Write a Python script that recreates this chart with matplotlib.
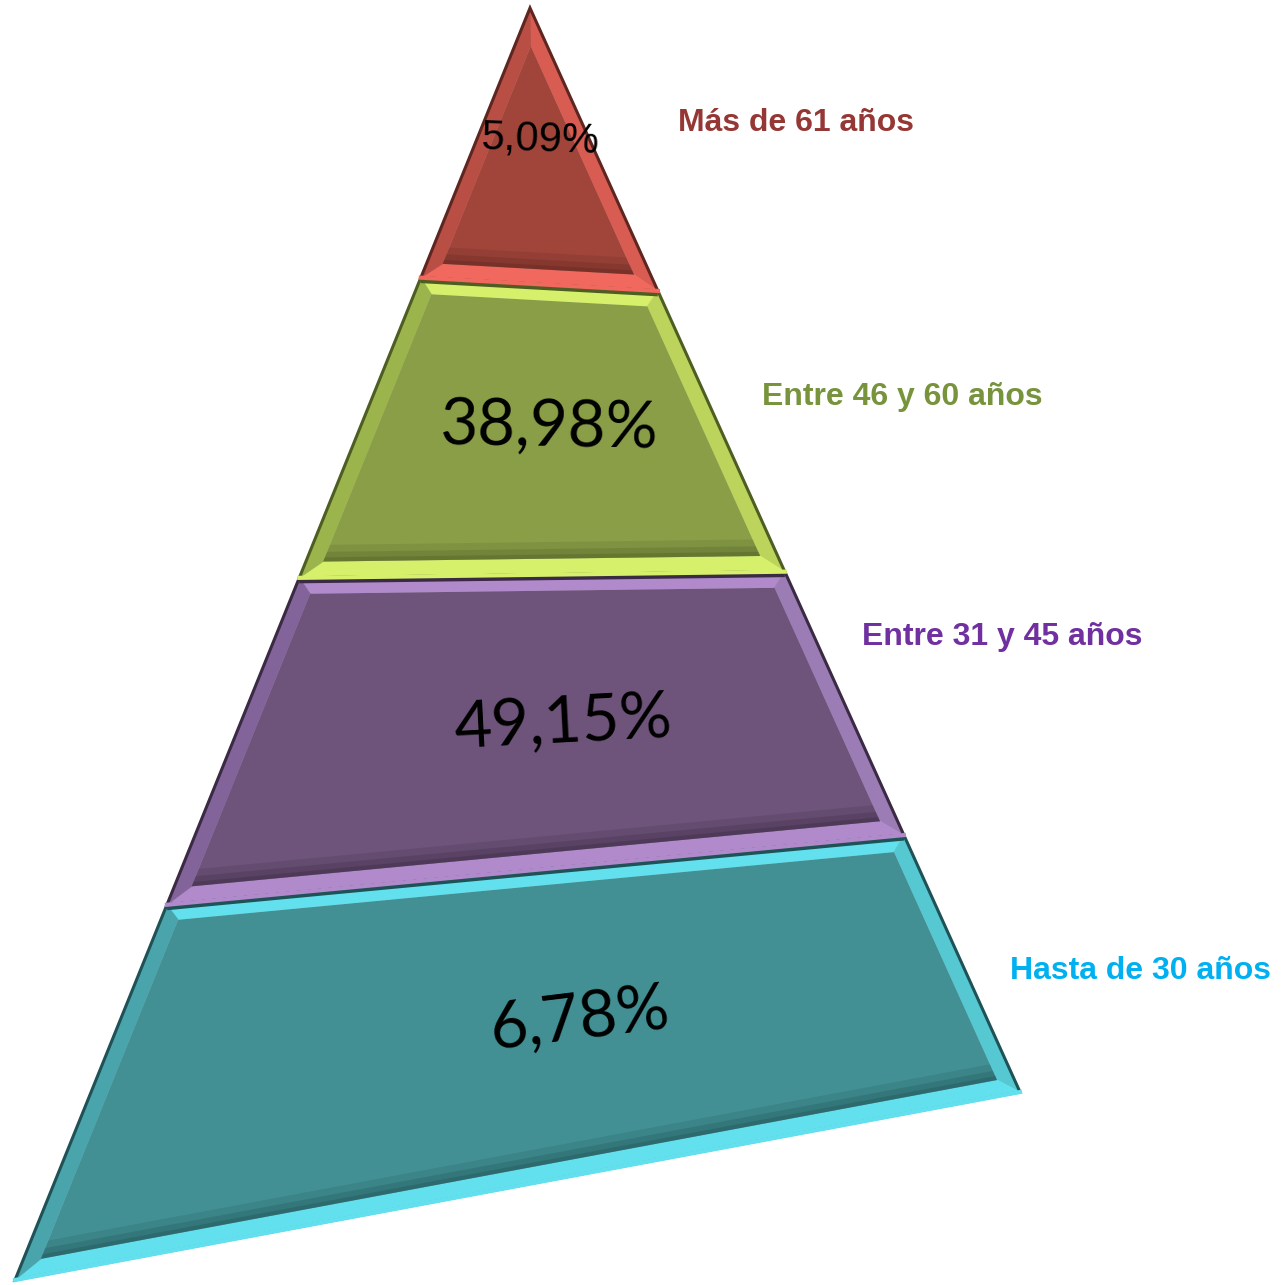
import matplotlib.pyplot as plt
from matplotlib.patches import Polygon
import numpy as np

# datos
grupos = ['Más de 61 años', 'Entre 46 y 60 años', 'Entre 31 y 45 años', 'Hasta de 30 años']
porcentajes = ['5,09%', '38,98%', '49,15%', '6,78%']

# colores por franja (cara, bisel, brillo, sombra) y color de la etiqueta
cara = ['#A1453A', '#8A9E48', '#6E537A', '#428F94']
bisel = ['#B84E44', '#9CB44C', '#83649A', '#4AA4AC']
lateral = ['#D85C52', '#BCD45C', '#9C7CB4', '#56C8D2']
brillo = ['#F0685E', '#D6F06C', '#B08ACA', '#62E0EE']
sombra = ['#5E2620', '#4E5E22', '#3A2A44', '#1F5256']
color_texto = ['#953735', '#77933C', '#7030A0', '#00B0F0']

# geometria de la piramide (pixeles, y hacia abajo)
apice = np.array([530.0, 8.0])
base_izq = np.array([15.0, 1280.0])
base_der = np.array([1020.0, 1092.0])
frac_izq = [0.0, 0.212, 0.448, 0.705, 1.0]
frac_der = [0.0, 0.261, 0.520, 0.763, 1.0]

pos_pct = [(540, 140), (549, 427), (563, 724), (580, 1020)]
rot_pct = [-2, -1, 3, 7]
pos_lbl = [(678, 123), (762, 397), (862, 637), (1010, 971)]


def inset(poly, d):
    poly = np.asarray(poly, float)
    c = poly.mean(axis=0)
    n = len(poly)
    lines = []
    for i in range(n):
        p, q = poly[i], poly[(i + 1) % n]
        t = q - p
        nv = np.array([-t[1], t[0]]) / np.hypot(*t)
        if np.dot(c - p, nv) < 0:
            nv = -nv
        lines.append((p + nv * d, t))
    out = []
    for i in range(n):
        (p1, t1), (p2, t2) = lines[i - 1], lines[i]
        A = np.array([t1, -t2]).T
        a, b = np.linalg.solve(A, p2 - p1)
        out.append(p1 + a * t1)
    return np.array(out)


fig = plt.figure(figsize=(12.85, 12.85), dpi=100)
ax = fig.add_axes([0, 0, 1, 1])
ax.set_xlim(0, 1285)
ax.set_ylim(1285, 0)
ax.axis('off')

for i in range(4):
    tl = apice + (base_izq - apice) * frac_izq[i]
    tr = apice + (base_der - apice) * frac_der[i]
    bl = apice + (base_izq - apice) * frac_izq[i + 1]
    br = apice + (base_der - apice) * frac_der[i + 1]
    if i == 0:
        outer = np.array([apice, br, bl])
        d = 15
        # colores de los lados: derecho, inferior, izquierdo
        side_cols = [lateral[i], brillo[i], bisel[i]]
    else:
        outer = np.array([tl, tr, br, bl])
        d = 16
        # superior, derecho, inferior, izquierdo
        side_cols = [brillo[i], lateral[i], brillo[i], bisel[i]]
    inner = inset(outer, d)
    n = len(outer)
    for k in range(n):
        strip = [outer[k], outer[(k + 1) % n], inner[(k + 1) % n], inner[k]]
        ax.add_patch(Polygon(strip, closed=True, facecolor=side_cols[k],
                             edgecolor=side_cols[k], lw=0.5, zorder=2))
    cara_patch = Polygon(inner, closed=True, facecolor=cara[i],
                         edgecolor='none', zorder=3)
    ax.add_patch(cara_patch)
    # sombra interior sobre el borde inferior
    kb = 1 if i == 0 else 2
    p, q = inner[kb], inner[(kb + 1) % n]
    for w, a in [(24, 0.18), (14, 0.25), (6, 0.35)]:
        ln, = ax.plot([p[0], q[0]], [p[1], q[1]], color=sombra[i], lw=w,
                      alpha=a, solid_capstyle='butt', zorder=4)
        ln.set_clip_path(cara_patch)
    # linea oscura del borde superior
    if i > 0:
        ax.plot([outer[0][0], outer[1][0]], [outer[0][1] + 2, outer[1][1] + 2],
                color=sombra[i], lw=5, zorder=5, solid_capstyle='butt')
    # linea oscura exterior
    ax.add_patch(Polygon(outer, closed=True, facecolor='none',
                         edgecolor=sombra[i], lw=2.2, zorder=5))
    ax.plot([outer[kb][0], outer[(kb + 1) % n][0]],
            [outer[kb][1], outer[(kb + 1) % n][1]],
            color=brillo[i], lw=3, zorder=6)

    if i == 0:
        ax.text(pos_pct[i][0], pos_pct[i][1], porcentajes[i], fontsize=30,
                family='Liberation Sans', color='black', ha='center',
                va='center', rotation=rot_pct[i], zorder=7)
    else:
        ax.text(pos_pct[i][0], pos_pct[i][1], porcentajes[i], fontsize=47,
                family='Lato', color='black', ha='center', va='center',
                rotation=rot_pct[i], zorder=7)

    ax.text(pos_lbl[i][0], pos_lbl[i][1], grupos[i], fontsize=23,
            family='Liberation Sans', fontweight='bold', color=color_texto[i],
            ha='left', va='center', zorder=7)

fig.savefig('out.png', dpi=100, facecolor='white')
